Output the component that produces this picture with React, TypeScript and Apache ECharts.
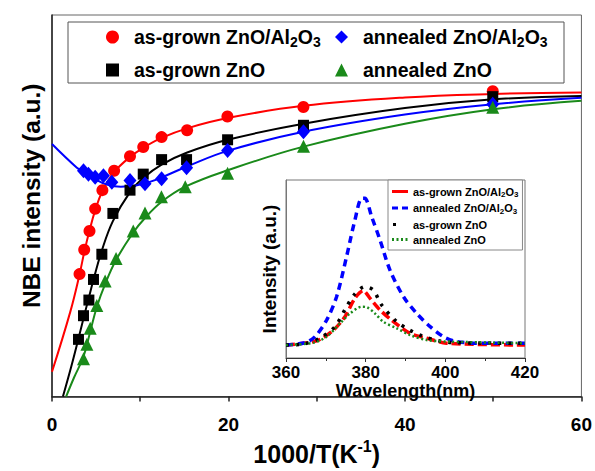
import React, { useEffect, useRef } from "react";
import * as echarts from "echarts";

// ---- Main plot: NBE intensity vs 1000/T (markers) ----
const redX = [3.12, 3.65, 4.25, 4.89, 5.71, 7.04, 8.84, 10.34, 12.42, 15.31, 19.88, 28.49, 49.95];
const redY = [32.1, 38.5, 43.4, 49.2, 54.1, 59.2, 63.0, 65.4, 68.0, 69.8, 73.4, 75.9, 80.0];
const blackX = [3.0, 3.57, 4.18, 4.7, 5.65, 6.9, 8.84, 10.34, 12.42, 15.25, 19.9, 28.5, 49.95];
const blackY = [15.0, 21.2, 25.3, 30.7, 37.3, 48.0, 54.1, 58.3, 62.1, 62.1, 67.3, 71.1, 78.6];
const blueX = [3.57, 4.13, 4.89, 5.83, 6.78, 8.84, 10.54, 12.42, 15.25, 19.9, 28.5, 49.95];
const blueY = [59.2, 58.3, 57.5, 57.9, 56.2, 56.6, 55.8, 57.1, 60.0, 64.5, 69.4, 76.6];
const greenX = [3.57, 3.95, 4.33, 5.08, 6.02, 7.26, 9.21, 10.54, 12.4, 15.1, 19.9, 28.5, 49.95];
const greenY = [9.9, 13.7, 17.9, 23.9, 30.3, 36.2, 43.4, 48.1, 52.4, 55.0, 58.5, 65.6, 75.8];

// ---- Main plot: fitted curves ----
const redFitX = [0, 2.07, 3.12, 3.65, 4.25, 4.89, 5.71, 7.04, 8.84, 10.34, 12.42, 15.31, 19.88, 28.49, 40, 50, 60];
const redFitY = [6.5, 22.2, 32.0, 37.8, 43.5, 48.8, 53.8, 58.8, 62.8, 65.2, 67.8, 70.3, 73.0, 76.2, 78.4, 79.3, 79.7];
const blackFitX = [1.24, 2.2, 3.0, 3.57, 4.18, 4.7, 5.65, 6.9, 8.84, 10.34, 12.42, 15.25, 19.9, 28.5, 40, 50, 60];
const blackFitY = [0, 8.0, 15.2, 20.5, 26.0, 30.6, 38.3, 46.0, 53.6, 57.3, 60.8, 63.9, 67.3, 71.5, 75.6, 77.9, 78.8];
const blueFitX = [0, 2.82, 3.57, 4.89, 6.2, 7.8, 9.5, 11, 12.4, 15.3, 19.9, 28.5, 40, 50, 60];
const blueFitY = [66.2, 60.0, 59.0, 57.0, 55.6, 55.0, 55.3, 56.2, 57.4, 60.3, 64.4, 69.4, 73.9, 76.6, 78.3];
const greenFitX = [1.6, 2.5, 3.57, 4.33, 5.08, 6.02, 7.26, 9.21, 10.54, 12.4, 15.1, 19.9, 28.5, 40, 50, 60];
const greenFitY = [0, 5.0, 10.5, 17.0, 23.5, 29.5, 35.8, 43.0, 46.8, 51.0, 55.0, 59.3, 65.5, 71.5, 75.3, 77.5];

// ---- Inset: PL spectra ----
const blueWl = [360, 364.8, 367.3, 370.2, 372.7, 375.2, 377.3, 379.0, 379.8, 381.5, 383.6, 386.1, 389.5, 392.8, 396.2, 399.5, 402.9, 409.5, 420];
const blueI = [7.3, 8.6, 12.0, 21.3, 34.4, 56.9, 77.5, 89.7, 89.7, 79.4, 66.3, 49.4, 34.4, 25.1, 17.6, 12.0, 9.2, 8.3, 8.3];
const redWl = [360, 367.7, 371.9, 374.8, 377.3, 379.4, 381.1, 383.6, 386.5, 391.1, 395.3, 400.3, 420];
const redI = [7.3, 9.7, 15.7, 23.2, 33.5, 37.8, 33.5, 27.0, 21.3, 13.9, 11.1, 8.3, 7.3];
const blackWl = [360, 364.4, 368.5, 372.3, 375.2, 377.3, 379.8, 381.9, 384.0, 387.8, 390.7, 394.1, 398.2, 402.9, 420];
const blackI = [7.3, 7.9, 11.1, 17.6, 28.8, 36.0, 40.1, 38.2, 29.8, 20.4, 16.1, 12.5, 9.7, 8.6, 8.3];
const greenWl = [360, 366.9, 370.2, 373.6, 376.1, 379.0, 380.3, 382.3, 384.4, 387.8, 391.1, 395.3, 401.2, 420];
const greenI = [7.3, 8.6, 12.0, 19.5, 25.1, 28.8, 28.5, 25.1, 20.4, 16.7, 12.9, 10.1, 9.2, 8.3];

const mainXTicks = [0, 60, 20];
const insetXTicks = [360, 420, 20];

const RED = "#ff0000";
const BLACK = "#000000";
const BLUE = "#0000ff";
const GREEN = "#1a8a1a";
const FONT = "'Liberation Sans', Arial, Helvetica, sans-serif";

const zip = (xs: number[], ys: number[]) => xs.map((x, i) => [x, ys[i]]);

const NAMES = {
  red: "as-grown ZnO/Al2O3",
  blue: "annealed ZnO/Al2O3",
  black: "as-grown ZnO",
  green: "annealed ZnO",
};
const PL = "PL ";

const richName = (name: string) => {
  const n = name.startsWith(PL) ? name.slice(PL.length) : name;
  if (n.endsWith("Al2O3")) {
    const head = n.slice(0, n.length - 5);
    return `{f|${head}Al}{s|2}{n|O}{s|3}`;
  }
  return `{f|${n}}`;
};

// legend icons for the inset (line samples)
const ICON_SOLID = "path://M0,0H16V3H0Z";
const ICON_DASH = "path://M0,0H6V3H0Z M10,0H16V3H10Z";
const ICON_DOT = "path://M1,0H4V3H1Z M16,0L16,3L16,0Z M0,0L0,3L0,0Z";
const ICON_DOTS = "path://M0,0H2V3H0Z M4.5,0H6.5V3H4.5Z M9,0H11V3H9Z M13.5,0H15.5V3H13.5Z M16,0L16,3L16,0Z";

export default function App() {
  const ref = useRef<HTMLDivElement>(null);
  useEffect(() => {
    if (!ref.current) return;
    const chart = echarts.init(ref.current, undefined, { renderer: "svg" });

    const mainLegend = (name: string, left: number, top: number) => ({
      data: [name],
      left,
      top,
      padding: 0,
      itemWidth: 13,
      itemHeight: 13,
      selectedMode: false,
      formatter: richName,
      textStyle: {
        color: "#000",
        rich: {
          f: { fontSize: 19.5, fontWeight: "bold", fontFamily: FONT, color: "#000", padding: [0, 0, 0, 10] },
          n: { fontSize: 19.5, fontWeight: "bold", fontFamily: FONT, color: "#000" },
          s: { fontSize: 14, fontWeight: "bold", fontFamily: FONT, color: "#000", padding: [10, 0, 0, 0] },
        },
      },
    });

    const lineSeries = (name: string, xs: number[], ys: number[], color: string) => ({
      name,
      type: "line",
      data: zip(xs, ys),
      smooth: 0.4,
      symbol: "none",
      lineStyle: { color, width: 2 },
      itemStyle: { color },
      silent: true,
      z: 2,
    });

    const plSeries = (name: string, xs: number[], ys: number[], color: string, type: any, width: number) => ({
      name: PL + name,
      type: "line",
      xAxisIndex: 1,
      yAxisIndex: 1,
      data: zip(xs, ys),
      smooth: 0.3,
      symbol: "none",
      lineStyle: { color, width, type, cap: "butt" },
      itemStyle: { color },
      silent: true,
      z: 10,
    });

    chart.setOption({
      animation: false,
      backgroundColor: "#ffffff",
      textStyle: { fontFamily: FONT },
      grid: [
        { left: 52, top: 15, width: 531, height: 392, show: true, borderColor: "#666", borderWidth: 1, backgroundColor: "#fff" },
        { left: 286, top: 180, width: 239, height: 178, show: true, borderColor: "#777", borderWidth: 1, backgroundColor: "#fff", z: 5 },
      ],
      xAxis: [
        {
          type: "value",
          gridIndex: 0,
          min: mainXTicks[0],
          max: mainXTicks[1],
          interval: mainXTicks[2],
          axisLine: { lineStyle: { color: "#222", width: 1.5 } },
          axisTick: { length: 5, lineStyle: { color: "#222", width: 1.5 } },
          minorTick: { show: true, splitNumber: 2, length: 5, lineStyle: { color: "#222", width: 1.5 } },
          splitLine: { show: false },
          minorSplitLine: { show: false },
          axisLabel: { fontSize: 19, fontWeight: "bold", color: "#000", margin: 18, fontFamily: FONT },
          name: "{a|1000/T(K}{b|-1}{a|)}",
          nameLocation: "middle",
          nameGap: 33,
          nameTextStyle: {
            rich: {
              a: { fontSize: 25, fontWeight: "bold", color: "#000", fontFamily: FONT },
              b: { fontSize: 16, fontWeight: "bold", color: "#000", fontFamily: FONT, padding: [0, 0, 14, 0] },
            },
          },
        },
        {
          type: "value",
          gridIndex: 1,
          min: insetXTicks[0],
          max: insetXTicks[1],
          interval: insetXTicks[2],
          axisLine: { lineStyle: { color: "#333", width: 1 } },
          axisTick: { length: 4, lineStyle: { color: "#333" } },
          minorTick: { show: true, splitNumber: 2, length: 3, lineStyle: { color: "#333" } },
          splitLine: { show: false },
          minorSplitLine: { show: false },
          axisLabel: { fontSize: 17, fontWeight: "bold", color: "#000", margin: 6, fontFamily: FONT },
          name: "Wavelength(nm)",
          nameLocation: "middle",
          nameGap: 21,
          nameTextStyle: { fontSize: 18, fontWeight: "bold", color: "#000", fontFamily: FONT },
          z: 6,
        },
      ],
      yAxis: [
        {
          type: "value",
          gridIndex: 0,
          min: 0,
          max: 100,
          axisLine: { show: true, lineStyle: { color: "#222", width: 1.5 } },
          axisTick: { show: false },
          axisLabel: { show: false },
          splitLine: { show: false },
          name: "NBE intensity (a.u.)",
          nameLocation: "middle",
          nameGap: 8,
          nameRotate: 90,
          nameTextStyle: { fontSize: 24.5, fontWeight: "bold", color: "#000", fontFamily: FONT, padding: [0, 0, 0, 20] },
        },
        {
          type: "value",
          gridIndex: 1,
          min: 0,
          max: 100,
          axisLine: { show: true, lineStyle: { color: "#777", width: 1 } },
          axisTick: { show: false },
          axisLabel: { show: false },
          splitLine: { show: false },
          name: "Intensity (a.u.)",
          nameLocation: "middle",
          nameGap: 7,
          nameRotate: 90,
          nameTextStyle: { fontSize: 19, fontWeight: "bold", color: "#000", fontFamily: FONT },
          z: 6,
        },
      ],
      legend: [
        mainLegend(NAMES.red, 106, 27),
        mainLegend(NAMES.blue, 335, 27),
        mainLegend(NAMES.black, 106, 60),
        mainLegend(NAMES.green, 335, 60),
        {
          data: [
            { name: PL + NAMES.red, icon: ICON_SOLID },
            { name: PL + NAMES.blue, icon: ICON_DASH },
            { name: PL + NAMES.black, icon: ICON_DOT },
            { name: PL + NAMES.green, icon: ICON_DOTS },
          ],
          orient: "vertical",
          left: 388,
          top: 180,
          padding: [6, 4, 5, 4],
          itemGap: 4,
          itemWidth: 16,
          itemHeight: 3,
          selectedMode: false,
          borderColor: "#888",
          borderWidth: 1,
          backgroundColor: "#fff",
          z: 12,
          formatter: (name: string) => richName(name).replace("{f|", "{n|"),
          textStyle: {
            color: "#000",
            rich: {
              n: { fontSize: 11, fontWeight: "bold", fontFamily: FONT, color: "#000" },
              s: { fontSize: 8, fontWeight: "bold", fontFamily: FONT, color: "#000", padding: [6, 0, 0, 0] },
            },
          },
        },
      ],
      graphic: [
        {
          type: "rect",
          shape: { x: 68, y: 22, width: 496, height: 61 },
          style: { fill: "none", stroke: "#555", lineWidth: 1 },
          silent: true,
          z: 1,
        },
      ],
      series: [
        lineSeries("fit red", redFitX, redFitY, RED),
        lineSeries("fit black", blackFitX, blackFitY, BLACK),
        lineSeries("fit blue", blueFitX, blueFitY, BLUE),
        lineSeries("fit green", greenFitX, greenFitY, GREEN),
        { name: NAMES.red, type: "scatter", data: zip(redX, redY), symbol: "circle", symbolSize: 12, itemStyle: { color: RED, opacity: 1 }, z: 4 },
        { name: NAMES.black, type: "scatter", data: zip(blackX, blackY), symbol: "rect", symbolSize: 11, itemStyle: { color: BLACK, opacity: 1 }, z: 4 },
        { name: NAMES.blue, type: "scatter", data: zip(blueX, blueY), symbol: "diamond", symbolSize: [13, 15], itemStyle: { color: BLUE, opacity: 1 }, z: 4 },
        { name: NAMES.green, type: "scatter", data: zip(greenX, greenY), symbol: "triangle", symbolSize: 13, itemStyle: { color: GREEN, opacity: 1 }, z: 4 },
        plSeries(NAMES.red, redWl, redI, RED, [9, 4], 3.5),
        plSeries(NAMES.blue, blueWl, blueI, BLUE, [7, 5], 3.5),
        plSeries(NAMES.black, blackWl, blackI, BLACK, [3, 7], 3.5),
        plSeries(NAMES.green, greenWl, greenI, GREEN, [2, 2.5], 2.5),
      ],
    });
    return () => chart.dispose();
  }, []);
  return <div ref={ref} style={{ position: "absolute", left: 0, top: 0, width: 595, height: 471 }} />;
}
